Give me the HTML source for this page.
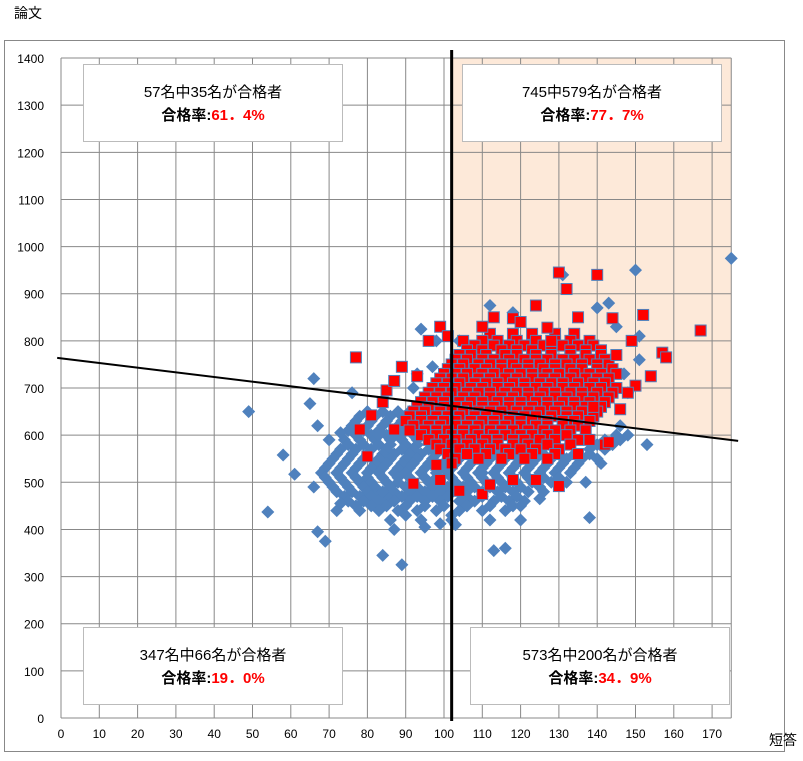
<!DOCTYPE html>
<html><head><meta charset="utf-8"><style>
body{margin:0;background:#fff;}
svg text{font-family:"Liberation Sans","Noto Sans CJK JP",sans-serif;}
</style></head><body>
<svg id="chart" width="803" height="756" xmlns="http://www.w3.org/2000/svg">
<rect x="4.5" y="40.5" width="780" height="711" fill="#fff" stroke="#888"/>
<text x="14" y="18" font-size="14">論文</text>
<text x="769" y="745" font-size="14">短答</text>
<g id="bg"></g><g id="grid"></g><g id="ticks"></g><g id="blue"></g><g id="red"></g><g id="lines"></g><g id="boxes"></g>
</svg>
<script>
const xTicks=[0,10,20,30,40,50,60,70,80,90,100,110,120,130,140,150,160,170];
const yTicks=[0,100,200,300,400,500,600,700,800,900,1000,1100,1200,1300,1400];
const cutX=102;
const regSlope=-0.99, regIntercept=763;
const redRows=[
[815,[112,118,123,129,134]],
[800,[105,110,114,119,124,129,133,138]],
[790,[108,113,117,121,126,131,135,139]],
[780,[106,110,115,119,123,128,133,137,141]],
[770,[104,107,111,116,119,124,128,133,137,141]],
[760,[103,106,110,113,117,121,124,127,131,134,138,142]],
[750,[102,105,109,112,115,118,122,125,129,132,136,140,143]],
[740,[101,104,108,111,115,119,122,126,129,133,136,140,144]],
[730,[100,103,106,110,113,117,120,123,127,130,134,138,141,145]],
[720,[99,102,105,109,112,116,119,123,126,129,133,137,140,143]],
[710,[98,101,104,108,111,114,118,121,125,128,131,135,139,142]],
[700,[97,100,103,107,110,114,117,121,124,127,131,134,138,141,145]],
[690,[96,99,102,106,109,112,116,119,122,126,129,133,136,140,144]],
[680,[95,98,101,105,108,112,115,118,122,125,129,132,136,139,143]],
[670,[94,97,100,104,107,110,114,117,120,124,127,131,134,138,142]],
[660,[93,96,100,103,106,110,113,117,120,123,127,130,134,137,141]],
[650,[92,95,99,102,105,109,112,115,119,122,125,129,132,136,140]],
[640,[91,94,98,101,104,108,111,114,118,121,124,128,132,135,139]],
[630,[90,94,97,100,103,107,110,113,117,120,123,127,131,134,138]],
[620,[92,96,99,103,106,109,113,116,120,124,127,131,135]],
[610,[91,95,98,101,105,108,112,115,118,122,126,129,133,137]],
[600,[94,98,102,105,109,113,116,120,123,127,132]],
[590,[96,100,103,107,111,114,118,121,125,129,135]],
[580,[98,102,106,110,114,118,122,127,133]],
[570,[99,104,108,112,116,120,124,130]],
[560,[101,106,111,117,123,129]],
[550,[103,109,115,121,127]]];
const redExtra=[[77,765],[80,555],[85,695],[87,715],[89,745],[93,725],[96,800],[99,830],[101,810],[110,830],[113,850],[118,848],[120,840],[124,875],[127,828],[132,910],[130,945],[140,940],[144,848],[149,800],[152,855],[150,705],[154,725],[157,775],[158,765],[167,822],[146,655],[142,580],[138,590],[135,560],[130,492],[124,505],[118,505],[110,475],[104,482],[98,537],[87,612],[78,612],[81,642],[84,670],[92,497],[99,505],[143,585],[139,660],[148,690],[145,770],[135,850],[128,800],[112,495],[102,540]];
const blueRows=[
[650,[80,84,88,91,95]],
[640,[78,82,86,89,93]],
[630,[77,81,85,89,92]],
[620,[76,80,84,88,91,95]],
[610,[75,79,83,87,90,94]],
[600,[77,81,85,88,92,96,145,148]],
[590,[74,78,82,86,89,93,97,142,146]],
[580,[75,79,83,86,90,93,97,100,140,144]],
[570,[73,77,81,85,89,92,96,99,138,142]],
[560,[72,76,80,84,87,91,94,98,102,106,110,114,118,122,126,130,134,138]],
[550,[71,75,79,83,86,90,93,97,101,104,108,112,116,120,124,128,132,136,140]],
[540,[70,74,78,82,85,89,92,96,100,103,107,111,115,119,123,127,131,135,141]],
[530,[69,73,77,81,84,88,91,95,99,102,106,110,114,118,122,126,130,134]],
[520,[68,72,76,80,83,87,90,94,98,101,105,109,113,117,121,125,129,133]],
[510,[69,73,77,80,84,88,91,95,98,102,106,110,114,118,122,126,130]],
[500,[70,74,78,81,85,88,92,96,99,103,107,111,115,119,123,128,132]],
[490,[71,75,79,82,86,90,93,97,101,105,108,112,116,120,125]],
[480,[72,76,80,83,87,91,95,99,102,106,110,114,118,122,126]],
[470,[74,78,81,85,89,93,97,101,106,110,115,119]],
[460,[75,79,83,87,91,95,99,104,108,113,117,121]],
[450,[77,81,85,90,95,100,106,112,118]],
[440,[78,83,88,93,98,104,110,116]],
[420,[86,94,102,112,120]]];
const blueExtra=[[49,650],[54,437],[58,558],[61,517],[65,667],[66,720],[67,620],[66,490],[67,395],[69,375],[72,440],[73,605],[70,590],[73,455],[76,690],[78,540],[84,345],[89,325],[87,400],[94,825],[98,800],[103,410],[108,600],[110,520],[113,355],[116,360],[120,450],[125,465],[131,940],[137,500],[138,425],[140,870],[143,880],[146,620],[150,950],[151,810],[153,580],[148,690],[151,760],[175,975],[112,875],[118,860],[145,830],[147,730],[102,430],[90,430],[95,405],[99,412],[106,450],[84,480],[83,600],[92,700],[97,745],[104,800],[93,730]];
const boxTexts=[["57名中35名が合格者","61．4%",83,64],["745中579名が合格者","77．7%",462,64],["347名中66名が合格者","19．0%",83,627],["573名中200名が合格者","34．9%",470,627]];

const NS="http://www.w3.org/2000/svg";
const X0=61,XS=3.83,Y0=718,YS=0.4714;
function sx(v){return X0+XS*v;}
function sy(v){return Y0-YS*v;}
function mk(tag,attrs,parent){const e=document.createElementNS(NS,tag);for(const k in attrs)e.setAttribute(k,attrs[k]);document.getElementById(parent).appendChild(e);return e;}
function reg(x){return regIntercept+regSlope*x;}
let bgp=mk('polygon',{points:`${sx(cutX)},${sy(1400)} ${sx(175)},${sy(1400)} ${sx(175)},${sy(reg(175))} ${sx(cutX)},${sy(reg(cutX))}`,fill:'#fde9d9'},'bg');


xTicks.forEach(t=>{
 let l=mk('line',{x1:sx(t),x2:sx(t),y1:sy(0),y2:sy(1400),stroke:'#888','stroke-width':1},'grid');
 
 
 let tx=mk('text',{x:sx(t),y:738,'font-size':12,'text-anchor':'middle'},'ticks');tx.textContent=t;
 
 
});
let rl=mk('line',{x1:sx(175),x2:sx(175),y1:sy(0),y2:sy(1400),stroke:'#888'},'grid');


yTicks.forEach(t=>{
 let l=mk('line',{x1:sx(0),x2:sx(175),y1:sy(t),y2:sy(t),stroke:'#888','stroke-width':1},'grid');
 
 
 let tx=mk('text',{x:44,y:sy(t)+5,'font-size':12,'text-anchor':'end'},'ticks');tx.textContent=t;
 
 
});
function blue(x,y){let p=mk('polygon',{points:`${sx(x)},${sy(y)-6.5} ${sx(x)+6.5},${sy(y)} ${sx(x)},${sy(y)+6.5} ${sx(x)-6.5},${sy(y)}`,fill:'#4f81bd'},'blue');
 
 }
function red(x,y){let r=mk('rect',{x:sx(x)-5.5,y:sy(y)-5.5,width:11,height:11,fill:'#ff0000',stroke:'#4f81bd','stroke-width':1},'red');
 
 }
blueRows.forEach(([y,xs])=>xs.forEach(x=>blue(x,y)));
blueExtra.forEach(([x,y])=>blue(x,y));
redRows.forEach(([y,xs])=>xs.forEach(x=>red(x,y)));
redExtra.forEach(([x,y])=>red(x,y));
let vl=mk('line',{x1:sx(cutX),x2:sx(cutX),y1:50,y2:sy(0)+3,stroke:'#000','stroke-width':3},'lines');


let rg=mk('line',{x1:sx(-1),y1:sy(reg(-1)),x2:sx(176.8),y2:sy(reg(176.8)),stroke:'#000','stroke-width':2},'lines');


boxTexts.forEach(([a,b,bx,by])=>{
 let r=mk('rect',{x:bx+0.5,y:by+0.5,width:259,height:77,fill:'#fff',stroke:'#bbb'},'boxes');
 
 
 let t1=mk('text',{x:bx+130,y:by+33,'font-size':15,'text-anchor':'middle'},'boxes');t1.textContent=a;
 
 
 let t2=mk('text',{x:bx+130,y:by+56,'font-size':15,'text-anchor':'middle','font-weight':'bold'},'boxes');
 
 
 let s1=document.createElementNS(NS,'tspan');s1.textContent='合格率:';t2.appendChild(s1);
 let s2=document.createElementNS(NS,'tspan');s2.setAttribute('fill','#ff0000');s2.textContent=b;t2.appendChild(s2);
});
</script>
</body></html>
